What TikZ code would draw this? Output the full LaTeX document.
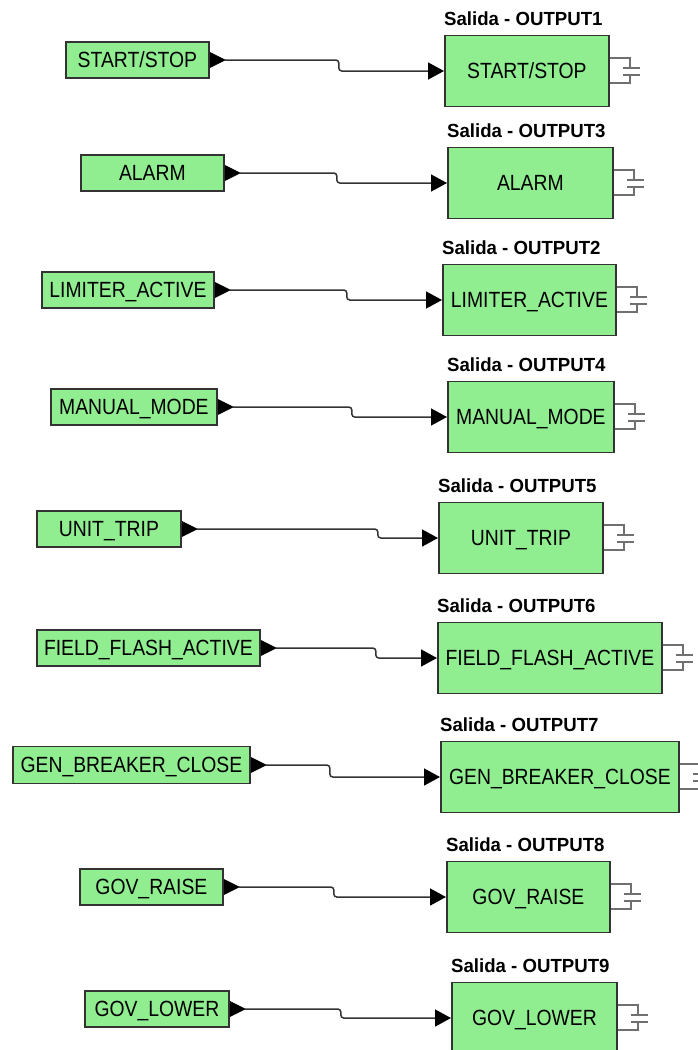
\documentclass[tikz,border=0pt]{standalone}
\usepackage{fontspec}
\usetikzlibrary{arrows.meta}
\newfontfamily\lblfont[FakeStretch=0.88]{Liberation Sans}
\newfontfamily\ttlfont[FakeStretch=0.98]{Liberation Sans}
\definecolor{blockfill}{HTML}{90EE90}
\definecolor{blockline}{HTML}{333333}
\definecolor{wirecol}{HTML}{333333}
\definecolor{portcol}{HTML}{707070}
\begin{document}
\begin{tikzpicture}[x=1pt, y=-1pt,
    insignal/.style={draw=blockline, fill=blockfill, line width=1.8pt, anchor=west,
        minimum height=36pt, inner xsep=2pt, text height=15.5pt, text depth=0pt,
        font=\lblfont\fontsize{22}{22}\selectfont},
    outblock/.style={insignal, minimum height=71pt},
    outtitle/.style={anchor=base west, inner sep=0pt, font=\ttlfont\bfseries\fontsize{19}{19}\selectfont},
    wire/.style={draw=wirecol, line width=1.5pt, rounded corners=3pt, -{Triangle[length=16pt, width=17pt, black]}},
    outport/.style={draw=portcol, line width=1.7pt},
]
    \useasboundingbox (0,0) rectangle (697,1050);

    % --- Input signals on the left ---
    \node[insignal, minimum width=143pt] (s1) at (65, 60) {START/STOP};
    \node[insignal, minimum width=143pt] (s2) at (80, 173) {ALARM};
    \node[insignal, minimum width=172pt] (s3) at (41, 290) {LIMITER\_ACTIVE};
    \node[insignal, minimum width=166pt] (s4) at (50, 407) {MANUAL\_MODE};
    \node[insignal, minimum width=144pt] (s5) at (36, 529) {UNIT\_TRIP};
    \node[insignal, minimum width=223pt] (s6) at (36, 648) {FIELD\_FLASH\_ACTIVE};
    \node[insignal, minimum width=237pt, minimum height=37pt] (s7) at (12, 765) {GEN\_BREAKER\_CLOSE};
    \node[insignal, minimum width=143pt] (s8) at (79, 887) {GOV\_RAISE};
    \node[insignal, minimum width=144pt] (s9) at (84, 1009) {GOV\_LOWER};

    % --- Output blocks on the right ---
    \node[outblock, minimum width=164pt] (t1) at (444, 71) {START/STOP};
    \node[outblock, minimum width=165pt] (t2) at (447, 183) {ALARM};
    \node[outblock, minimum width=173pt] (t3) at (442, 300) {LIMITER\_ACTIVE};
    \node[outblock, minimum width=166pt] (t4) at (447, 417) {MANUAL\_MODE};
    \node[outblock, minimum width=164pt] (t5) at (438, 538) {UNIT\_TRIP};
    \node[outblock, minimum width=224pt] (t6) at (437, 658) {FIELD\_FLASH\_ACTIVE};
    \node[outblock, minimum width=238pt] (t7) at (440, 777) {GEN\_BREAKER\_CLOSE};
    \node[outblock, minimum width=163pt] (t8) at (446, 897) {GOV\_RAISE};
    \node[outblock, minimum width=165pt] (t9) at (451, 1018) {GOV\_LOWER};

    % Titles sit on the top left corner of each output block
    \node[outtitle] (h1) at ([yshift=9pt]t1.north west) {Salida - OUTPUT1};
    \node[outtitle] (h2) at ([yshift=9pt]t2.north west) {Salida - OUTPUT3};
    \node[outtitle] (h3) at ([yshift=9pt]t3.north west) {Salida - OUTPUT2};
    \node[outtitle] (h4) at ([yshift=9pt]t4.north west) {Salida - OUTPUT4};
    \node[outtitle] (h5) at ([yshift=9pt]t5.north west) {Salida - OUTPUT5};
    \node[outtitle] (h6) at ([yshift=9pt]t6.north west) {Salida - OUTPUT6};
    \node[outtitle] (h7) at ([yshift=9pt]t7.north west) {Salida - OUTPUT7};
    \node[outtitle] (h8) at ([yshift=9pt]t8.north west) {Salida - OUTPUT8};
    \node[outtitle] (h9) at ([yshift=9pt]t9.north west) {Salida - OUTPUT9};

    % --- Pins on the inputs, port symbols on the outputs ---
    \foreach \n in {1,...,9} {
        \fill[black] (s\n.east) ++(0,-8) -- ++(16,8) -- ++(-16,8) -- cycle;
        \coordinate (p\n) at ([xshift=15pt]s\n.east);
        \draw[outport] (t\n.east) ++(0,-13) -- ++(20,0) -- ++(0,10);
        \draw[outport] (t\n.east) ++(13,-3) -- ++(17,0);
        \draw[outport] (t\n.east) ++(13,4) -- ++(17,0);
        \draw[outport] (t\n.east) ++(20,4) -- ++(0,8) -- ++(-20,0);
    }

    % --- Connections, each with a small step half way ---
    \draw[wire] (p1) -- ++(114,0) |- (t1.west);
    \draw[wire] (p2) -- ++(97,0) |- (t2.west);
    \draw[wire] (p3) -- ++(117,0) |- (t3.west);
    \draw[wire] (p4) -- ++(119,0) |- (t4.west);
    \draw[wire] (p5) -- ++(181,0) |- (t5.west);
    \draw[wire] (p6) -- ++(100,0) |- (t6.west);
    \draw[wire] (p7) -- ++(64,0) |- (t7.west);
    \draw[wire] (p8) -- ++(95,0) |- (t8.west);
    \draw[wire] (p9) -- ++(96,0) |- (t9.west);
\end{tikzpicture}
\end{document}
